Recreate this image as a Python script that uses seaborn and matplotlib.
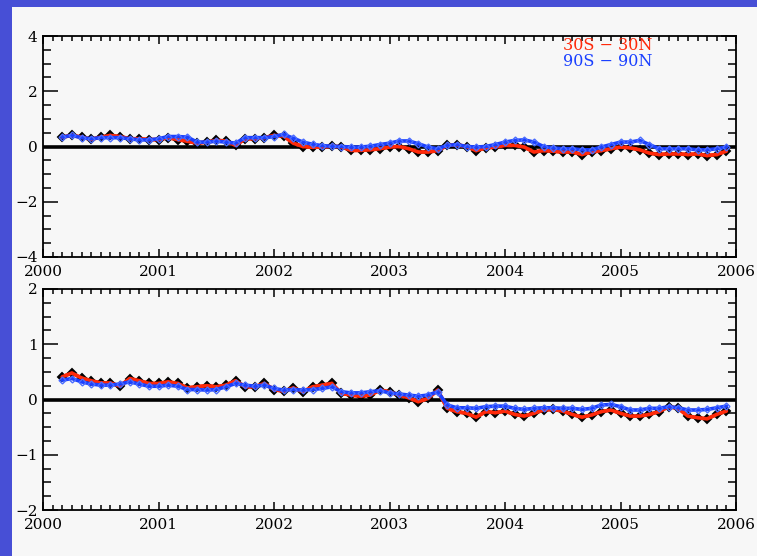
import numpy as np
import pandas as pd
import matplotlib
matplotlib.use("Agg")
import matplotlib.pyplot as plt
import seaborn as sns
from matplotlib.patches import Rectangle
from matplotlib.ticker import MultipleLocator

# month index counted from Jan 2000 (2 = Mar 2000 ... 71 = Dec 2005)
month_index = list(range(2, 72))
years = [2000 + m / 12 for m in month_index]

top_red = [0.34, 0.40, 0.34, 0.26, 0.34, 0.40, 0.36, 0.28, 0.28, 0.25, 0.25, 0.32, 0.25,
           0.19, 0.12, 0.16, 0.22, 0.20, 0.04, 0.28, 0.28, 0.32, 0.40, 0.38, 0.12,
           0.00, -0.03, -0.02, 0.01, -0.01, -0.14, -0.14, -0.12,
           -0.08, -0.02, 0.00, -0.08, -0.20, -0.20, -0.15, 0.04, 0.06, 0.00, -0.15, -0.05,
           -0.02, 0.04, 0.04, -0.02, -0.20, -0.15, -0.17, -0.20, -0.20, -0.29, -0.20, -0.15,
           -0.08, -0.02, -0.05, -0.12, -0.24, -0.29, -0.27, -0.27, -0.29, -0.27, -0.33, -0.29, -0.17]
top_blue = [0.34, 0.40, 0.32, 0.28, 0.32, 0.32, 0.32, 0.28, 0.24, 0.24, 0.28, 0.36, 0.36,
            0.34, 0.16, 0.16, 0.19, 0.16, 0.12, 0.32, 0.32, 0.32, 0.36, 0.44, 0.30, 0.16,
            0.08, 0.03, 0.01, 0.00, -0.02, -0.02, 0.01,
            0.07, 0.12, 0.20, 0.20, 0.10, -0.02, -0.08, 0.04, 0.07, 0.00, -0.02, 0.00,
            0.07, 0.16, 0.22, 0.24, 0.16, 0.00, -0.05, -0.08, -0.08, -0.12, -0.12, -0.02,
            0.07, 0.16, 0.16, 0.22, 0.07, -0.08, -0.08, -0.08, -0.08, -0.12, -0.12, -0.08, -0.02]
bot_red = [0.41, 0.48, 0.39, 0.34, 0.30, 0.30, 0.24, 0.38, 0.34, 0.29, 0.29, 0.32, 0.29,
           0.21, 0.23, 0.25, 0.23, 0.26, 0.34, 0.23, 0.23, 0.29, 0.18, 0.15, 0.21, 0.14,
           0.23, 0.26, 0.29, 0.11, 0.08, 0.06, 0.08,
           0.17, 0.14, 0.08, 0.03, -0.04, 0.02, 0.17, -0.16, -0.22, -0.25, -0.32, -0.22,
           -0.24, -0.21, -0.27, -0.30, -0.25, -0.19, -0.18, -0.21, -0.27, -0.32, -0.28, -0.22,
           -0.19, -0.25, -0.30, -0.30, -0.27, -0.22, -0.13, -0.16, -0.30, -0.33, -0.35, -0.27, -0.21]
bot_blue = [0.35, 0.38, 0.32, 0.28, 0.26, 0.26, 0.28, 0.32, 0.28, 0.24, 0.24, 0.26, 0.24,
            0.18, 0.18, 0.17, 0.18, 0.23, 0.29, 0.26, 0.24, 0.26, 0.20, 0.17, 0.18, 0.17,
            0.18, 0.20, 0.23, 0.14, 0.12, 0.12, 0.14,
            0.16, 0.12, 0.10, 0.08, 0.06, 0.08, 0.14, -0.10, -0.15, -0.15, -0.16, -0.13,
            -0.12, -0.12, -0.16, -0.18, -0.16, -0.15, -0.15, -0.16, -0.16, -0.18, -0.16, -0.10,
            -0.09, -0.13, -0.19, -0.19, -0.16, -0.16, -0.13, -0.15, -0.19, -0.19, -0.18, -0.15, -0.12]

labels = ["30S \u2212 30N", "90S \u2212 90N"]
year_ticks = [2000, 2001, 2002, 2003, 2004, 2005, 2006]
top_yticks = [-4, -2, 0, 2, 4]
bot_yticks = [-2, -1, 0, 1, 2]

RED = "#ff2a0a"
BLUE = "#1a40ff"
BLUE_MK = "#4a6cff"

sns.set_style("ticks")
plt.rcParams["font.family"] = ["DejaVu Serif"]

W, H = 757, 556
fig = plt.figure(figsize=(W / 100, H / 100), dpi=100, facecolor="#474fd6")
fig.patches.append(Rectangle((12 / W, 0), 1 - 12 / W, 1 - 7 / H, transform=fig.transFigure,
                             facecolor="#f7f7f7", edgecolor="none", zorder=-10))

ax1 = fig.add_axes([43 / W, 1 - 257 / H, 693 / W, 221 / H])
ax2 = fig.add_axes([43 / W, 1 - 510 / H, 693 / W, 221 / H])

df = pd.DataFrame({"year": years, "top_red": top_red, "top_blue": top_blue,
                   "bot_red": bot_red, "bot_blue": bot_blue})

for ax, rcol, bcol, yt, ymaj, ymin in [(ax1, "top_red", "top_blue", top_yticks, 2, 0.5),
                                        (ax2, "bot_red", "bot_blue", bot_yticks, 1, 0.25)]:
    ax.set_zorder(5)
    ax.set_facecolor("#f7f7f7")
    ax.axhline(0, color="black", lw=2.6, zorder=1)
    sns.lineplot(data=df, x="year", y=rcol, ax=ax, color=RED, lw=2.6, marker="D",
                 markersize=4.5, markerfacecolor="#3a0a00", markeredgecolor="black",
                 markeredgewidth=1.4, zorder=3)
    sns.lineplot(data=df, x="year", y=rcol, ax=ax, color=RED, lw=2.6, zorder=3.5)
    sns.lineplot(data=df, x="year", y=bcol, ax=ax, color=BLUE, lw=2.6, marker="D",
                 markersize=3.5, markerfacecolor="none", markeredgecolor=BLUE_MK,
                 markeredgewidth=1.0, zorder=4)
    ax.set_xlim(year_ticks[0], year_ticks[-1])
    ax.set_ylim(yt[0], yt[-1])
    ax.set_xticks(year_ticks)
    ax.set_yticks(yt)
    ax.xaxis.set_minor_locator(MultipleLocator(1 / 12))
    ax.yaxis.set_minor_locator(MultipleLocator(ymin))
    ax.set_xlabel("")
    ax.set_ylabel("")
    for s in ax.spines.values():
        s.set_visible(True)
        s.set_color("black")
        s.set_linewidth(1.3)
    ax.tick_params(which="both", direction="in", top=True, right=True, colors="black",
                   labelsize=11, width=1.1)
    ax.tick_params(axis="x", which="major", length=6, pad=6)
    ax.tick_params(axis="x", which="minor", length=3.5)
    ax.tick_params(axis="y", which="major", length=10.5, pad=4)
    ax.tick_params(axis="y", which="minor", length=6)
    leg = ax.get_legend()
    if leg:
        leg.remove()

fig.text(563 / W, 1 - 46 / H, labels[0], color=RED, fontsize=11.5, ha="left", va="center",
         zorder=10)
fig.text(563 / W, 1 - 62 / H, labels[1], color=BLUE, fontsize=11.5, ha="left", va="center",
         zorder=10)

fig.savefig("out.png", dpi=100, facecolor=fig.get_facecolor())
